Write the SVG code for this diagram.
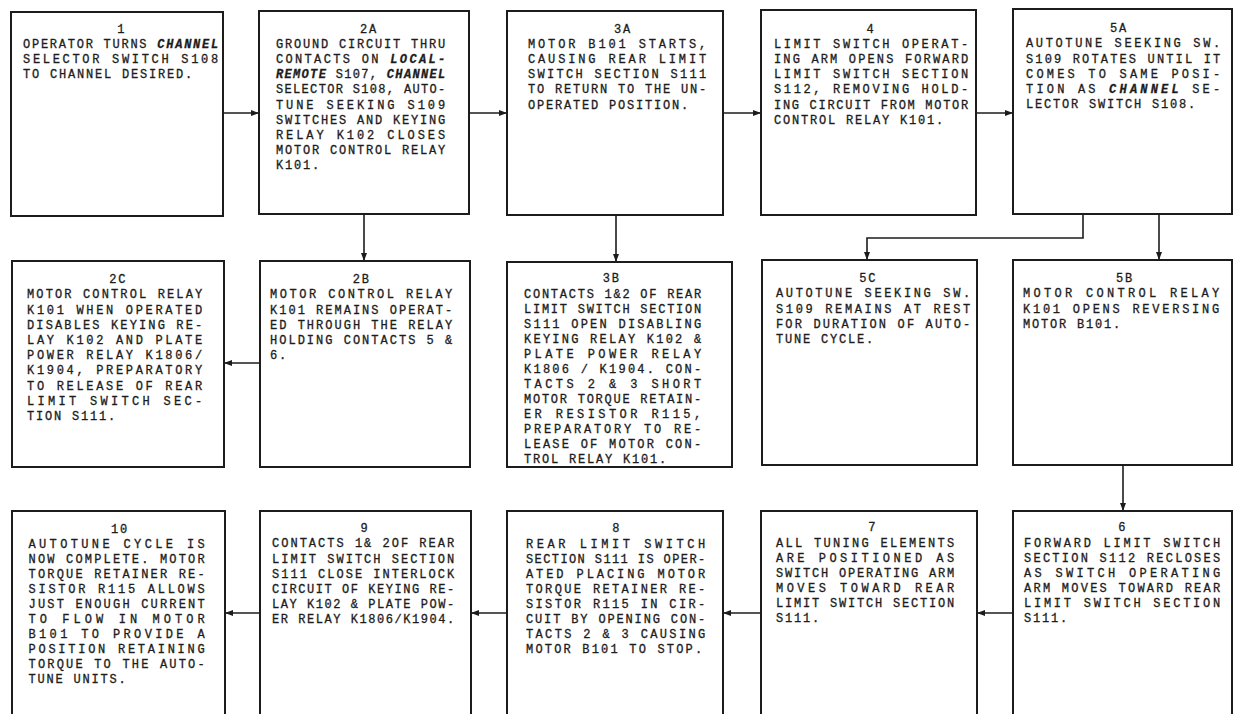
<svg xmlns="http://www.w3.org/2000/svg" width="1235" height="714" viewBox="0 0 1235 714">
<style>
.box{fill:#fff;stroke:#1c1c1c;stroke-width:2}
.t{font-family:"Liberation Mono","DejaVu Sans Mono",monospace;font-size:12px;fill:#1c1c1c;stroke:#1c1c1c;stroke-width:0.3;letter-spacing:1.8px}
.n{text-anchor:middle}
.i{font-style:italic;font-weight:bold}
.c{fill:none;stroke:#1c1c1c;stroke-width:1.6}
</style>
<defs>
<marker id="ah" markerUnits="userSpaceOnUse" markerWidth="8" markerHeight="6" refX="8" refY="3" orient="auto">
<path d="M0,0 L8,3 L0,6 z" fill="#1c1c1c"/>
</marker>
</defs>
<rect width="1235" height="714" fill="#fff"/>

<g id="connectors">
<path class="c" d="M223,113 H259" marker-end="url(#ah)"/>
<path class="c" d="M469,113 H507" marker-end="url(#ah)"/>
<path class="c" d="M723,113 H761" marker-end="url(#ah)"/>
<path class="c" d="M976,113 H1013" marker-end="url(#ah)"/>
<path class="c" d="M364,214 V261" marker-end="url(#ah)"/>
<path class="c" d="M616,215 V262" marker-end="url(#ah)"/>
<path class="c" d="M1083,214 V238 H867 V260" marker-end="url(#ah)"/>
<path class="c" d="M1159,214 V260" marker-end="url(#ah)"/>
<path class="c" d="M260,363 H224" marker-end="url(#ah)"/>
<path class="c" d="M1123,465 V511" marker-end="url(#ah)"/>
<path class="c" d="M1013,613 H977" marker-end="url(#ah)"/>
<path class="c" d="M761,613 H723" marker-end="url(#ah)"/>
<path class="c" d="M507,613 H471" marker-end="url(#ah)"/>
<path class="c" d="M260,613 H225" marker-end="url(#ah)"/>
</g>

<g id="n1">
<rect class="box" x="11" y="12" width="212" height="204"/>
<text class="t n" x="121.7" y="32.5">1</text>
<text class="t" x="23" y="47.7" textLength="197" lengthAdjust="spacing">OPERATOR TURNS <tspan class="i">CHANNEL</tspan></text>
<text class="t" x="23" y="62.7" textLength="197" lengthAdjust="spacing">SELECTOR SWITCH S108</text>
<text class="t" x="23" y="77.7">TO CHANNEL DESIRED.</text>
</g>

<g id="n2A">
<rect class="box" x="259" y="11" width="210" height="203"/>
<text class="t n" x="369" y="33">2A</text>
<text class="t" x="276" y="47.7" textLength="171" lengthAdjust="spacing">GROUND CIRCUIT THRU</text>
<text class="t" x="276" y="62.9" textLength="171" lengthAdjust="spacing">CONTACTS ON <tspan class="i">LOCAL-</tspan></text>
<text class="t" x="276" y="78.1" textLength="171" lengthAdjust="spacing"><tspan class="i">REMOTE</tspan> S107, <tspan class="i">CHANNEL</tspan></text>
<text class="t" x="276" y="93.3" textLength="171" lengthAdjust="spacing">SELECTOR S108, AUTO-</text>
<text class="t" x="276" y="108.5" textLength="171" lengthAdjust="spacing">TUNE SEEKING S109</text>
<text class="t" x="276" y="123.7" textLength="171" lengthAdjust="spacing">SWITCHES AND KEYING</text>
<text class="t" x="276" y="138.9" textLength="171" lengthAdjust="spacing">RELAY K102 CLOSES</text>
<text class="t" x="276" y="154.1" textLength="171" lengthAdjust="spacing">MOTOR CONTROL RELAY</text>
<text class="t" x="276" y="169.3">K101.</text>
</g>

<g id="n3A">
<rect class="box" x="507" y="11" width="216" height="204"/>
<text class="t n" x="623" y="32.7">3A</text>
<text class="t" x="528" y="47.7" textLength="180" lengthAdjust="spacing">MOTOR B101 STARTS,</text>
<text class="t" x="528" y="62.9" textLength="180" lengthAdjust="spacing">CAUSING REAR LIMIT</text>
<text class="t" x="528" y="78.1" textLength="180" lengthAdjust="spacing">SWITCH SECTION S111</text>
<text class="t" x="528" y="93.3" textLength="180" lengthAdjust="spacing">TO RETURN TO THE UN-</text>
<text class="t" x="528" y="108.5">OPERATED POSITION.</text>
</g>

<g id="n4">
<rect class="box" x="761" y="10" width="215" height="205"/>
<text class="t n" x="871" y="32.7">4</text>
<text class="t" x="774" y="47.7" textLength="196" lengthAdjust="spacing">LIMIT SWITCH OPERAT-</text>
<text class="t" x="774" y="62.9" textLength="196" lengthAdjust="spacing">ING ARM OPENS FORWARD</text>
<text class="t" x="774" y="78.1" textLength="196" lengthAdjust="spacing">LIMIT SWITCH SECTION</text>
<text class="t" x="774" y="93.3" textLength="196" lengthAdjust="spacing">S112, REMOVING HOLD-</text>
<text class="t" x="774" y="108.5" textLength="196" lengthAdjust="spacing">ING CIRCUIT FROM MOTOR</text>
<text class="t" x="774" y="123.7">CONTROL RELAY K101.</text>
</g>

<g id="n5A">
<rect class="box" x="1013" y="9" width="219" height="205"/>
<text class="t n" x="1119" y="32.3">5A</text>
<text class="t" x="1026" y="47.3" textLength="196" lengthAdjust="spacing">AUTOTUNE SEEKING SW.</text>
<text class="t" x="1026" y="62.5" textLength="196" lengthAdjust="spacing">S109 ROTATES UNTIL IT</text>
<text class="t" x="1026" y="77.7" textLength="196" lengthAdjust="spacing">COMES TO SAME POSI-</text>
<text class="t" x="1026" y="92.9" textLength="196" lengthAdjust="spacing">TION AS <tspan class="i">CHANNEL</tspan> SE-</text>
<text class="t" x="1026" y="108.1">LECTOR SWITCH S108.</text>
</g>

<g id="n2C">
<rect class="box" x="12" y="261" width="212" height="206"/>
<text class="t n" x="118.3" y="283.3">2C</text>
<text class="t" x="27" y="298.3" textLength="177" lengthAdjust="spacing">MOTOR CONTROL RELAY</text>
<text class="t" x="27" y="313.5" textLength="177" lengthAdjust="spacing">K101 WHEN OPERATED</text>
<text class="t" x="27" y="328.7" textLength="177" lengthAdjust="spacing">DISABLES KEYING RE-</text>
<text class="t" x="27" y="343.9" textLength="177" lengthAdjust="spacing">LAY K102 AND PLATE</text>
<text class="t" x="27" y="359.1" textLength="177" lengthAdjust="spacing">POWER RELAY K1806/</text>
<text class="t" x="27" y="374.3" textLength="177" lengthAdjust="spacing">K1904, PREPARATORY</text>
<text class="t" x="27" y="389.5" textLength="177" lengthAdjust="spacing">TO RELEASE OF REAR</text>
<text class="t" x="27" y="404.7" textLength="177" lengthAdjust="spacing">LIMIT SWITCH SEC-</text>
<text class="t" x="27" y="419.9">TION S111.</text>
</g>

<g id="n2B">
<rect class="box" x="260" y="261" width="210" height="206"/>
<text class="t n" x="361.7" y="283.3">2B</text>
<text class="t" x="270" y="298.3" textLength="184" lengthAdjust="spacing">MOTOR CONTROL RELAY</text>
<text class="t" x="270" y="313.5" textLength="184" lengthAdjust="spacing">K101 REMAINS OPERAT-</text>
<text class="t" x="270" y="328.7" textLength="184" lengthAdjust="spacing">ED THROUGH THE RELAY</text>
<text class="t" x="270" y="343.9" textLength="184" lengthAdjust="spacing">HOLDING CONTACTS 5 &amp;</text>
<text class="t" x="270" y="359.1">6.</text>
</g>

<g id="n3B">
<rect class="box" x="507" y="262" width="225" height="205"/>
<text class="t n" x="611.7" y="282.3">3B</text>
<text class="t" x="524" y="298.3" textLength="179" lengthAdjust="spacing">CONTACTS 1&amp;2 OF REAR</text>
<text class="t" x="524" y="313.3" textLength="179" lengthAdjust="spacing">LIMIT SWITCH SECTION</text>
<text class="t" x="524" y="328.3" textLength="179" lengthAdjust="spacing">S111 OPEN DISABLING</text>
<text class="t" x="524" y="343.3" textLength="179" lengthAdjust="spacing">KEYING RELAY K102 &amp;</text>
<text class="t" x="524" y="358.3" textLength="179" lengthAdjust="spacing">PLATE POWER RELAY</text>
<text class="t" x="524" y="373.3" textLength="179" lengthAdjust="spacing">K1806 / K1904. CON-</text>
<text class="t" x="524" y="388.3" textLength="179" lengthAdjust="spacing">TACTS 2 &amp; 3 SHORT</text>
<text class="t" x="524" y="403.3" textLength="179" lengthAdjust="spacing">MOTOR TORQUE RETAIN-</text>
<text class="t" x="524" y="418.3" textLength="179" lengthAdjust="spacing">ER RESISTOR R115,</text>
<text class="t" x="524" y="433.3" textLength="179" lengthAdjust="spacing">PREPARATORY TO RE-</text>
<text class="t" x="524" y="448.3" textLength="179" lengthAdjust="spacing">LEASE OF MOTOR CON-</text>
<text class="t" x="524" y="463.3">TROL RELAY K101.</text>
</g>

<g id="n5C">
<rect class="box" x="762" y="260" width="215" height="205"/>
<text class="t n" x="868.3" y="281.7">5C</text>
<text class="t" x="776" y="297.3" textLength="196" lengthAdjust="spacing">AUTOTUNE SEEKING SW.</text>
<text class="t" x="776" y="312.5" textLength="196" lengthAdjust="spacing">S109 REMAINS AT REST</text>
<text class="t" x="776" y="327.7" textLength="196" lengthAdjust="spacing">FOR DURATION OF AUTO-</text>
<text class="t" x="776" y="342.9">TUNE CYCLE.</text>
</g>

<g id="n5B">
<rect class="box" x="1013" y="260" width="219" height="205"/>
<text class="t n" x="1125" y="281.7">5B</text>
<text class="t" x="1023" y="297.3" textLength="198" lengthAdjust="spacing">MOTOR CONTROL RELAY</text>
<text class="t" x="1023" y="312.5" textLength="198" lengthAdjust="spacing">K101 OPENS REVERSING</text>
<text class="t" x="1023" y="327.7">MOTOR B101.</text>
</g>

<g id="n10">
<rect class="box" x="12" y="511" width="213" height="215"/>
<text class="t n" x="120" y="533.3">10</text>
<text class="t" x="28.5" y="548.3" textLength="178" lengthAdjust="spacing">AUTOTUNE CYCLE IS</text>
<text class="t" x="28.5" y="563.3" textLength="178" lengthAdjust="spacing">NOW COMPLETE. MOTOR</text>
<text class="t" x="28.5" y="578.3" textLength="178" lengthAdjust="spacing">TORQUE RETAINER RE-</text>
<text class="t" x="28.5" y="593.3" textLength="178" lengthAdjust="spacing">SISTOR R115 ALLOWS</text>
<text class="t" x="28.5" y="608.3" textLength="178" lengthAdjust="spacing">JUST ENOUGH CURRENT</text>
<text class="t" x="28.5" y="623.3" textLength="178" lengthAdjust="spacing">TO FLOW IN MOTOR</text>
<text class="t" x="28.5" y="638.3" textLength="178" lengthAdjust="spacing">B101 TO PROVIDE A</text>
<text class="t" x="28.5" y="653.3" textLength="178" lengthAdjust="spacing">POSITION RETAINING</text>
<text class="t" x="28.5" y="668.3" textLength="178" lengthAdjust="spacing">TORQUE TO THE AUTO-</text>
<text class="t" x="28.5" y="683.3">TUNE UNITS.</text>
</g>

<g id="n9">
<rect class="box" x="260" y="511" width="211" height="215"/>
<text class="t n" x="365" y="531.7">9</text>
<text class="t" x="272" y="547.3" textLength="184" lengthAdjust="spacing">CONTACTS 1&amp; 2OF REAR</text>
<text class="t" x="272" y="562.5" textLength="184" lengthAdjust="spacing">LIMIT SWITCH SECTION</text>
<text class="t" x="272" y="577.7" textLength="184" lengthAdjust="spacing">S111 CLOSE INTERLOCK</text>
<text class="t" x="272" y="592.9" textLength="184" lengthAdjust="spacing">CIRCUIT OF KEYING RE-</text>
<text class="t" x="272" y="608.1" textLength="184" lengthAdjust="spacing">LAY K102 &amp; PLATE POW-</text>
<text class="t" x="272" y="623.3" textLength="184" lengthAdjust="spacing">ER RELAY K1806/K1904.</text>
</g>

<g id="n8">
<rect class="box" x="507" y="511" width="216" height="215"/>
<text class="t n" x="616.7" y="531.7">8</text>
<text class="t" x="526" y="548" textLength="181" lengthAdjust="spacing">REAR LIMIT SWITCH</text>
<text class="t" x="526" y="563" textLength="181" lengthAdjust="spacing">SECTION S111 IS OPER-</text>
<text class="t" x="526" y="578" textLength="181" lengthAdjust="spacing">ATED PLACING MOTOR</text>
<text class="t" x="526" y="593" textLength="181" lengthAdjust="spacing">TORQUE RETAINER RE-</text>
<text class="t" x="526" y="608" textLength="181" lengthAdjust="spacing">SISTOR R115 IN CIR-</text>
<text class="t" x="526" y="623" textLength="181" lengthAdjust="spacing">CUIT BY OPENING CON-</text>
<text class="t" x="526" y="638" textLength="181" lengthAdjust="spacing">TACTS 2 &amp; 3 CAUSING</text>
<text class="t" x="526" y="653" textLength="178" lengthAdjust="spacing">MOTOR B101 TO STOP.</text>
</g>

<g id="n7">
<rect class="box" x="761" y="511" width="216" height="215"/>
<text class="t n" x="872.7" y="530.7">7</text>
<text class="t" x="776" y="547.3" textLength="180" lengthAdjust="spacing">ALL TUNING ELEMENTS</text>
<text class="t" x="776" y="562.3" textLength="180" lengthAdjust="spacing">ARE POSITIONED AS</text>
<text class="t" x="776" y="577.3" textLength="180" lengthAdjust="spacing">SWITCH OPERATING ARM</text>
<text class="t" x="776" y="592.3" textLength="180" lengthAdjust="spacing">MOVES TOWARD REAR</text>
<text class="t" x="776" y="607.3" textLength="180" lengthAdjust="spacing">LIMIT SWITCH SECTION</text>
<text class="t" x="776" y="622.3">S111.</text>
</g>

<g id="n6">
<rect class="box" x="1013" y="511" width="219" height="215"/>
<text class="t n" x="1122.7" y="530.7">6</text>
<text class="t" x="1024" y="547.3" textLength="198" lengthAdjust="spacing">FORWARD LIMIT SWITCH</text>
<text class="t" x="1024" y="562.3" textLength="198" lengthAdjust="spacing">SECTION S112 RECLOSES</text>
<text class="t" x="1024" y="577.3" textLength="198" lengthAdjust="spacing">AS SWITCH OPERATING</text>
<text class="t" x="1024" y="592.3" textLength="198" lengthAdjust="spacing">ARM MOVES TOWARD REAR</text>
<text class="t" x="1024" y="607.3" textLength="198" lengthAdjust="spacing">LIMIT SWITCH SECTION</text>
<text class="t" x="1024" y="622.3">S111.</text>
</g>
</svg>
